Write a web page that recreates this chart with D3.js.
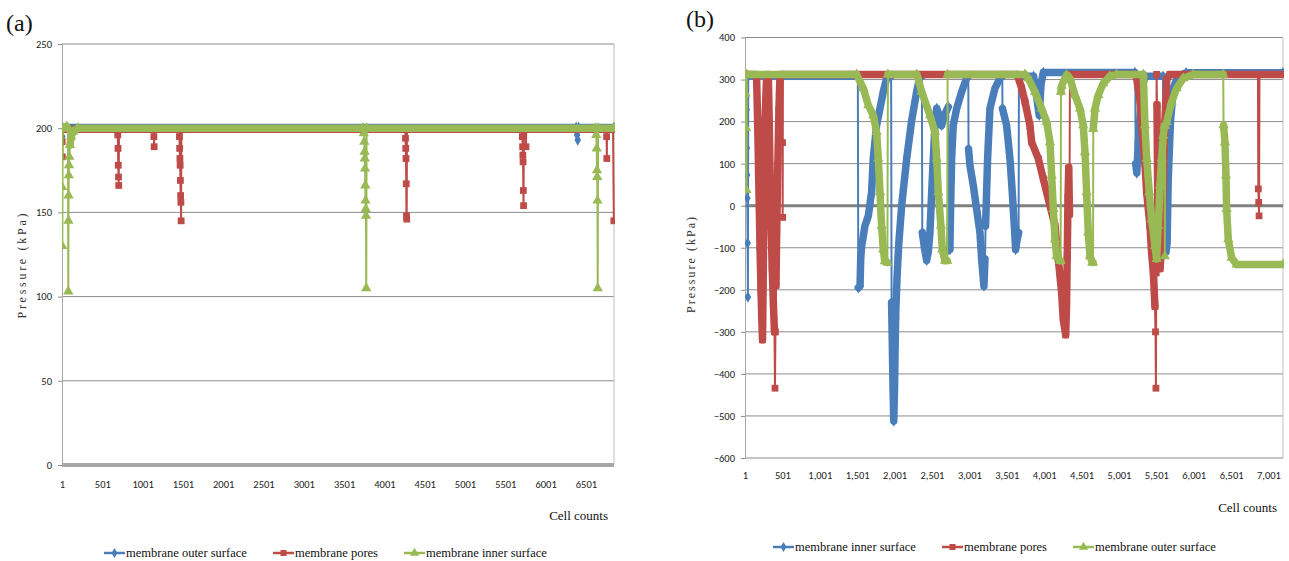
<!DOCTYPE html>
<html>
<head>
<meta charset="utf-8">
<script src="https://cdn.jsdelivr.net/npm/d3@7"></script>
<style>
  body { margin: 0; background: #fff; }
</style>
</head>
<body>
<div id="chart"></div>
<script>
// ---- panel (a) data: [cell count, pressure kPa] ----
const xTicksA = [1, 501, 1001, 1501, 2001, 2501, 3001, 3501, 4001, 4501, 5001, 5501, 6001, 6501];
const yTicksA = [0, 50, 100, 150, 200, 250];
const legendA = ["membrane outer surface", "membrane pores", "membrane inner surface"];

const outerSurfaceA = [
  [1, 199], [4, 195], [8, 200.4], [6380, 200.4], [6392, 196], [6400, 193], [6410, 200.4], [6850, 200.4]
];
const poresA = [
  [1, 199.4], [3, 192], [5, 183], [8, 199.4],
  [690, 199.4], [693, 196], [696, 188], [699, 178], [702, 171], [705, 166], [708, 199.4],
  [1138, 199.4], [1141, 195], [1144, 189], [1147, 199.4],
  [1455, 199.4], [1458, 195], [1461, 188], [1464, 182], [1467, 178], [1470, 169], [1473, 160], [1476, 156], [1479, 145], [1482, 199.4],
  [4260, 199.4], [4263, 194], [4266, 188], [4269, 182], [4272, 167], [4275, 148], [4278, 146], [4281, 199.4],
  [5710, 199.4], [5713, 195], [5716, 189], [5719, 184], [5722, 180], [5725, 163], [5728, 154], [5731, 199.4],
  [5755, 199.4], [5758, 189], [5761, 199.4],
  [6755, 199.4], [6758, 195], [6761, 182], [6764, 199.4],
  [6838, 199.4], [6848, 145]
];
const innerSurfaceA = [
  [1, 200], [3, 165], [5, 130], [9, 200], [60, 201], [75, 200], [79, 103], [81, 145], [83, 160], [85, 172],
  [88, 178], [92, 183], [100, 190], [115, 195], [140, 198], [200, 200],
  [3735, 200], [3745, 197], [3752, 192], [3755, 186], [3758, 182], [3761, 176], [3764, 166], [3767, 157],
  [3770, 152], [3773, 148], [3776, 105], [3780, 200],
  [6620, 200], [6630, 196], [6636, 188], [6639, 175], [6642, 171], [6645, 157], [6648, 105], [6652, 200], [6850, 200]
];

// ---- panel (b) data ----
const xTicksB = [1, 501, 1001, 1501, 2001, 2501, 3001, 3501, 4001, 4501, 5001, 5501, 6001, 6501, 7001];
const yTicksB = [-600, -500, -400, -300, -200, -100, 0, 100, 200, 300, 400];
const legendB = ["membrane inner surface", "membrane pores", "membrane outer surface"];

const innerSurfaceB = [
  [1, 308], [20, 308], [23, 228], [26, 137], [29, 73], [32, 18], [36, -89], [40, -217], [44, 308],
  [1510, 308], [1516, -195], [1539, -191], [1548, -127], [1561, -96], [1605, -48], [1650, -24], [1694, 32],
  [1716, 112], [1761, 191], [1806, 231], [1850, 271], [1895, 303], [1917, 308],
  [1955, 308], [1961, -230], [1971, -330], [1980, -430], [1990, -512], [2000, -440], [2009, -330], [2018, -247],
  [2035, -167], [2055, -96], [2096, 0], [2163, 112], [2230, 203], [2296, 271], [2341, 308],
  [2366, 308], [2372, -64], [2400, -100], [2430, -130], [2452, -110], [2474, -64], [2497, 32], [2519, 112],
  [2541, 191], [2564, 231], [2600, 215], [2630, 191], [2680, 220], [2719, 235], [2724, -104], [2741, -104],
  [2750, -8], [2764, 112], [2786, 191], [2831, 231], [2898, 271], [2964, 303], [2987, 308],
  [2990, 135], [3009, 96], [3054, 48], [3098, -8], [3143, -64], [3165, -127], [3196, -191], [3210, -127],
  [3218, -48], [3245, 112], [3276, 231], [3343, 279], [3424, 308],
  [3441, 308], [3444, 231], [3455, 223], [3499, 191], [3544, 112], [3575, 32], [3602, -48], [3620, -104],
  [3640, -80], [3660, -64], [3664, 308],
  [3860, 308], [3900, 260], [3935, 215], [3960, 290], [3990, 317], [5215, 317], [5220, 308],
  [5225, 100], [5240, 78], [5260, 150], [5300, 255], [5330, 295], [5350, 308],
  [5590, 308], [5595, 80], [5615, -60], [5630, -110], [5645, -90], [5660, 60], [5690, 200], [5730, 280], [5790, 308],
  [5900, 316], [7195, 316]
];
const poresB = [
  [1, 312], [155, 312], [170, 200], [185, 60], [202, -100], [215, -200], [224, -260], [235, -319], [246, -150],
  [255, 50], [268, 200], [291, 312],
  [313, 312], [325, 200], [335, 80], [350, -50], [365, -150], [380, -230], [395, -300], [402, -434], [408, -300],
  [415, -190], [425, -60], [440, 100], [455, 230], [469, 312], [500, 312], [503, 150], [505, -28], [508, 312],
  [3640, 312], [3700, 280], [3745, 247], [3811, 191], [3834, 151], [3923, 112], [3990, 64], [4057, 16],
  [4146, -48], [4190, -127], [4235, -207], [4257, -271], [4289, -307], [4300, -240], [4310, -120], [4320, 20],
  [4330, 90], [4340, -20], [4346, 312],
  [5230, 312], [5283, 250], [5305, 191], [5349, 100], [5372, 32], [5416, -48], [5438, -112], [5461, -160],
  [5483, -240], [5490, -300], [5496, -434], [5500, -160], [5505, 312], [5510, 240], [5527, -130], [5550, -150],
  [5572, -100], [5600, 100], [5616, 200], [5640, 300], [5683, 312],
  [6860, 312], [6865, 40], [6870, 8], [6875, -24], [6880, 312], [7195, 312]
];
const outerSurfaceB = [
  [1, 312], [8, 267], [14, 185], [20, 37], [26, 312],
  [1494, 312], [1583, 279], [1650, 239], [1716, 215], [1761, 175], [1783, 112], [1806, 32], [1828, -48],
  [1850, -104], [1870, -132], [1905, -135], [1912, 312],
  [2300, 312], [2363, 271], [2474, 215], [2541, 175], [2564, 112], [2586, 32], [2621, -48], [2639, -104],
  [2675, -131], [2705, -131], [2710, 312],
  [3745, 312], [3789, 303], [3878, 271], [3968, 231], [4035, 199], [4079, 151], [4101, 72], [4124, -8],
  [4146, -80], [4168, -120], [4213, -131], [4222, -131], [4226, 271], [4235, 285], [4270, 300], [4302, 311],
  [4346, 303], [4413, 263], [4480, 231], [4524, 191], [4547, 127], [4569, 32], [4591, -64], [4614, -120],
  [4645, -135], [4655, -135], [4658, 183], [4681, 231], [4725, 263], [4792, 291], [4881, 308], [4970, 312],
  [5327, 312], [5349, 191], [5372, 112], [5407, 32], [5438, -32], [5483, -96], [5505, -127], [5527, -48],
  [5550, 48], [5572, 112], [5594, 167], [5610, 190], [5615, -120], [5620, 190], [5639, 199], [5706, 247], [5772, 279],
  [5862, 303], [5995, 312],
  [6396, 312], [6400, 191], [6419, 151], [6432, 72], [6441, -8], [6463, -80], [6508, -124], [6575, -140], [7195, -140]
];

const colors = ["#4a7ebb", "#be4b48", "#98b954"];
const symbols = [d3.symbolDiamond, d3.symbolSquare, d3.symbolTriangle];
const serif = "'Liberation Serif', 'Times New Roman', serif";
const sans = "Carlito, 'Liberation Sans', Arial, sans-serif";

const svg = d3.select("#chart")
    .append("svg")
    .attr("width", 1289)
    .attr("height", 561)
    .style("background", "#fff");

function drawPanel(p) {
    const x = d3.scaleLinear().domain(p.xDomain).range([p.left, p.right]);
    const y = d3.scaleLinear().domain(p.yDomain).range([p.bottom, p.top]);
    const g = svg.append("g");

    // Horizontal gridlines
    g.selectAll(null)
        .data(p.yTicks)
        .enter()
        .append("line")
        .attr("x1", p.left).attr("x2", p.right)
        .attr("y1", d => y(d)).attr("y2", d => y(d))
        .attr("stroke", "#8c8c8c")
        .attr("stroke-width", 1);

    // Right border of plot area
    g.append("line")
        .attr("x1", p.right).attr("x2", p.right)
        .attr("y1", p.top).attr("y2", p.bottom)
        .attr("stroke", "#bfbfbf");

    // Y axis
    const yAxis = g.append("g")
        .attr("transform", `translate(${p.left},0)`)
        .call(d3.axisLeft(y).tickValues(p.yTicks).tickSizeInner(4).tickSizeOuter(0).tickPadding(6));
    yAxis.select(".domain").attr("stroke", "#a6a6a6");
    yAxis.selectAll("line").attr("stroke", "#8c8c8c");
    yAxis.selectAll("text").style("font-family", sans).style("font-size", "10.5px").attr("fill", "#222");

    // Thick zero line (category axis)
    g.append("line")
        .attr("x1", p.left).attr("x2", p.right)
        .attr("y1", y(0)).attr("y2", y(0))
        .attr("stroke", p.zeroColor)
        .attr("stroke-width", p.zeroWidth);

    // X tick labels
    const xAxis = g.append("g")
        .attr("transform", `translate(0,${p.bottom})`)
        .call(d3.axisBottom(x).tickValues(p.xTicks).tickFormat(p.xFormat).tickSize(0).tickPadding(p.xPad));
    xAxis.select(".domain").remove();
    xAxis.selectAll("text").style("font-family", sans).style("font-size", "10.5px").attr("fill", "#222");

    // Series: dense runs drawn as thick bands, sudden jumps as thin lines
    const clipId = "clip" + p.name;
    svg.append("clipPath").attr("id", clipId)
        .append("rect")
        .attr("x", p.left).attr("y", p.top - 4)
        .attr("width", p.right - p.left + 1).attr("height", p.bottom - p.top + 8);
    const plot = g.append("g").attr("clip-path", `url(#${clipId})`);

    p.series.forEach((s, i) => {
        const pts = s.map(d => [x(d[0]), y(d[1])]);
        let thick = "", thin = "";
        for (let k = 1; k < pts.length; k++) {
            const a = pts[k - 1], b = pts[k];
            const seg = `M${a[0]},${a[1]}L${b[0]},${b[1]}`;
            if (Math.abs(b[0] - a[0]) < p.jumpPx) thin += seg; else thick += seg;
        }
        plot.append("path")
            .attr("d", thick)
            .attr("fill", "none")
            .attr("stroke", colors[i])
            .attr("stroke-width", 7.5)
            .attr("stroke-linecap", "round")
            .attr("stroke-linejoin", "round");
        plot.append("path")
            .attr("d", thin)
            .attr("fill", "none")
            .attr("stroke", colors[i])
            .attr("stroke-width", 2);
        plot.selectAll(null)
            .data(s)
            .enter()
            .append("path")
            .attr("transform", d => `translate(${x(d[0])},${y(d[1])})`)
            .attr("d", d3.symbol().type(symbols[i]).size(i === 0 ? 38 : 46))
            .attr("fill", colors[i]);
    });

    // Y axis title
    g.append("text")
        .attr("transform", `translate(${p.yTitleX},${p.yTitleY}) rotate(-90)`)
        .attr("text-anchor", "middle")
        .attr("textLength", p.yTitleLen)
        .attr("lengthAdjust", "spacing")
        .style("font-family", serif)
        .style("font-size", "12px")
        .attr("fill", "#333")
        .text("Pressure (kPa)");

    // X axis title
    g.append("text")
        .attr("x", p.right - 6)
        .attr("y", p.xTitleY)
        .attr("text-anchor", "end")
        .style("font-family", serif)
        .style("font-size", "13px")
        .attr("fill", "#111")
        .text("Cell counts");

    // Panel label
    g.append("text")
        .attr("x", p.labelX)
        .attr("y", p.labelY)
        .style("font-family", serif)
        .style("font-size", "24px")
        .attr("fill", "#111")
        .text(p.label);

    // Legend
    p.legend.forEach((name, i) => {
        const lx = p.legendX[i];
        g.append("line")
            .attr("x1", lx).attr("x2", lx + 21)
            .attr("y1", p.legendY).attr("y2", p.legendY)
            .attr("stroke", colors[i]).attr("stroke-width", 2.5);
        g.append("path")
            .attr("transform", `translate(${lx + 10.5},${p.legendY})`)
            .attr("d", d3.symbol().type(symbols[i]).size(i === 0 ? 30 : 36))
            .attr("fill", colors[i]);
        g.append("text")
            .attr("x", lx + 22)
            .attr("y", p.legendY + 4)
            .style("font-family", serif)
            .style("font-size", "12.5px")
            .attr("fill", "#111")
            .text(name);
    });
}

drawPanel({
    name: "A", label: "(a)", labelX: 6, labelY: 31,
    xDomain: [1, 6850], yDomain: [0, 250],
    left: 62, right: 614, top: 44, bottom: 465,
    xTicks: xTicksA, yTicks: yTicksA, xFormat: d3.format("d"), xPad: 16,
    zeroColor: "#a6a6a6", zeroWidth: 4, jumpPx: 1.2,
    series: [outerSurfaceA, poresA, innerSurfaceA],
    yTitleX: 26, yTitleY: 266, yTitleLen: 105,
    xTitleY: 520,
    legend: legendA, legendX: [104, 273, 404], legendY: 553
});

drawPanel({
    name: "B", label: "(b)", labelX: 686, labelY: 27,
    xDomain: [1, 7195], yDomain: [-600, 400],
    left: 745, right: 1283, top: 37.5, bottom: 458,
    xTicks: xTicksB, yTicks: yTicksB, xFormat: d3.format(","), xPad: 14,
    zeroColor: "#808080", zeroWidth: 3, jumpPx: 0.62,
    series: [innerSurfaceB, poresB, outerSurfaceB],
    yTitleX: 695, yTitleY: 265, yTitleLen: 96,
    xTitleY: 512,
    legend: legendB, legendX: [773, 942, 1073], legendY: 547
});
</script>
</body>
</html>
